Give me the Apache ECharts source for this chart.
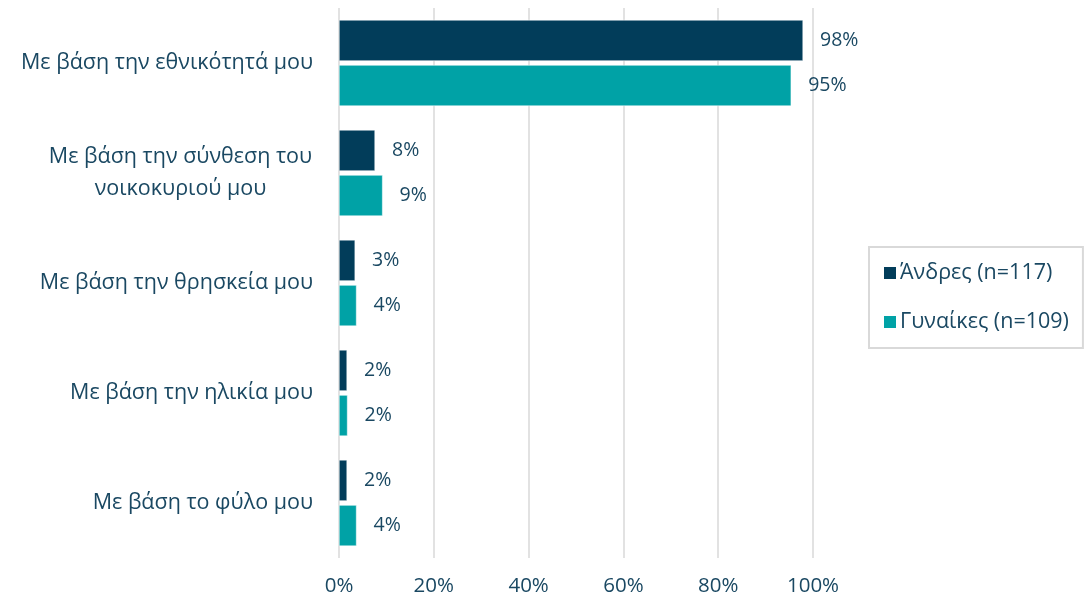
<!DOCTYPE html>
<html>
<head>
<meta charset="utf-8">
<title>Bar chart</title>
<script src="https://cdn.jsdelivr.net/npm/echarts@6/dist/echarts.min.js"></script>
<style>
  html, body { margin: 0; padding: 0; background: #fff; }
  #main { width: 1085px; height: 599px; }
</style>
</head>
<body>
<div id="main"></div>
<script type="text/javascript">
// categories, top to bottom
var categories = [
  'Με βάση την εθνικότητά μου',
  'Με βάση την σύνθεση του\nνοικοκυριού μου',
  'Με βάση την θρησκεία μου',
  'Με βάση την ηλικία μου',
  'Με βάση το φύλο μου'
];
var seriesNames = ['Άνδρες (n=117)', 'Γυναίκες (n=109)'];
var men = [97.9, 7.6, 3.4, 1.7, 1.7];
var women = [95.4, 9.2, 3.7, 1.8, 3.7];
var xTicks = [0, 20, 40, 60, 80, 100];

var textColor = '#1a4862';
var font = 'Open Sans';
var catSize = 21.5;

// width of the longest line of the wrapped label, so its lines can be centred
var ctx = document.createElement('canvas').getContext('2d');
ctx.font = catSize + 'px "' + font + '"';
function lineWidth(s) {
  return Math.max.apply(null, s.split('\n').map(function (l) { return ctx.measureText(l).width; }));
}

var chart = echarts.init(document.getElementById('main'));

function barSeries(name, data, color) {
  return {
    name: name,
    type: 'bar',
    data: data,
    barWidth: 41,
    barGap: '10%',
    itemStyle: { color: color, borderColor: '#ffffff', borderWidth: 0.5 },
    label: {
      show: true,
      position: 'right',
      distance: 17,
      color: textColor,
      fontFamily: font,
      fontSize: 19.5,
      formatter: function (p) { return Math.round(p.value) + '%'; }
    }
  };
}

chart.setOption({
  animation: false,
  textStyle: { fontFamily: font },
  grid: { left: 339, right: 272, top: 8, bottom: 41 },
  legend: {
    data: seriesNames,
    orient: 'vertical',
    left: 869,
    top: 247,
    itemWidth: 14,
    itemHeight: 14,
    itemGap: 27,
    padding: [15, 14, 15, 13],
    borderColor: '#d9d9d9',
    borderWidth: 2,
    icon: 'rect',
    textStyle: { color: textColor, fontSize: 21.5, fontFamily: font, padding: [0, 0, 0, -2] }
  },
  xAxis: {
    type: 'value',
    min: 0,
    max: 100,
    interval: 20,
    axisLine: { show: false },
    axisTick: { show: false },
    splitLine: { lineStyle: { color: '#d9d9d9', width: 1.5 } },
    axisLabel: {
      color: textColor,
      fontSize: 20.5,
      margin: 18,
      fontFamily: font,
      formatter: function (v) { return xTicks.indexOf(v) >= 0 ? v + '%' : ''; }
    }
  },
  yAxis: {
    type: 'category',
    data: categories,
    inverse: true,
    axisLine: { show: false },
    axisTick: { show: false },
    axisLabel: {
      color: textColor,
      fontSize: catSize,
      margin: 26,
      lineHeight: 32,
      fontFamily: font,
      formatter: function (v) {
        if (v.indexOf('\n') < 0) return v;
        // wrapped label: centre the lines on each other
        return v.split('\n').map(function (s) { return '{c|' + s + '}'; }).join('\n');
      },
      rich: {
        c: {
          width: Math.ceil(lineWidth(categories[1])) + 1,
          align: 'center', color: textColor, fontSize: catSize, lineHeight: 32, fontFamily: font
        }
      }
    }
  },
  series: [
    barSeries(seriesNames[0], men, '#023d5a'),
    barSeries(seriesNames[1], women, '#00a2a6')
  ]
});
</script>
</body>
</html>
